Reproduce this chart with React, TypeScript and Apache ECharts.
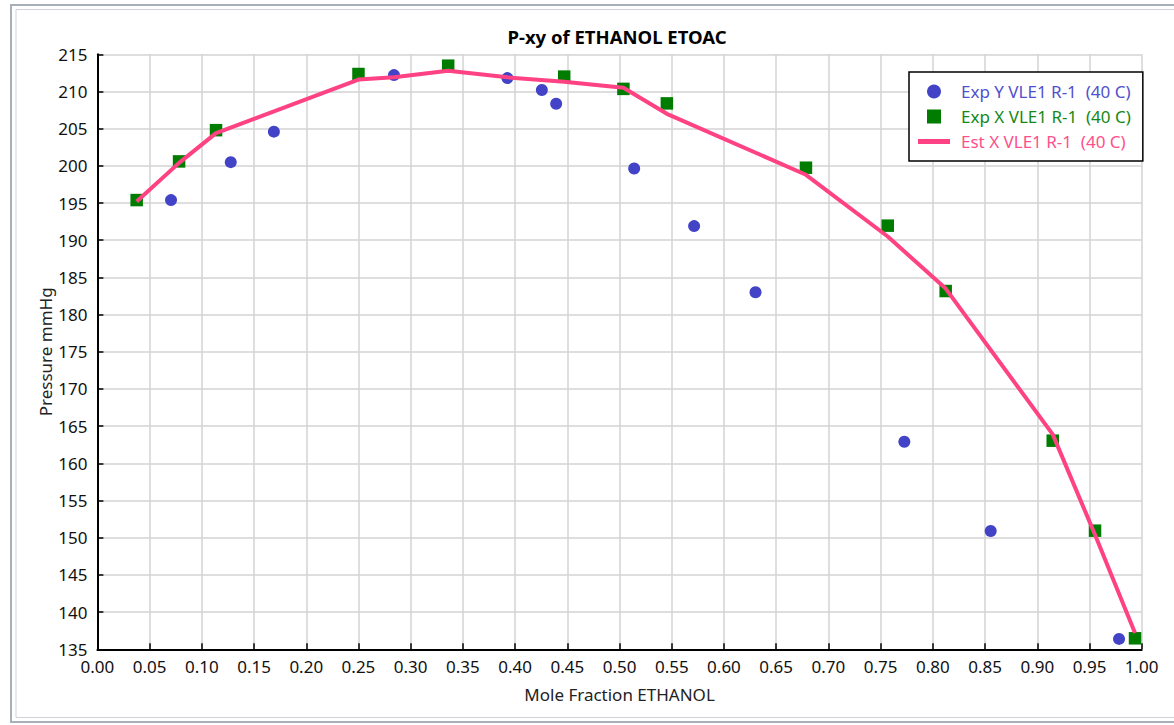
import React, { useEffect, useRef } from "react";
import * as echarts from "echarts";

const FONT = "'Noto Sans', 'DejaVu Sans', sans-serif";

const TITLE = "P-xy of ETHANOL ETOAC";
const X_NAME = "Mole Fraction ETHANOL";
const Y_NAME = "Pressure mmHg";
const SERIES_NAMES = [
  "Exp Y VLE1 R-1  (40 C)",
  "Exp X VLE1 R-1  (40 C)",
  "Est X VLE1 R-1  (40 C)",
];
const COLORS = ["#4343c8", "#007d00", "#ff4283"];
const TEXT_COLORS = ["#5050cf", "#168816", "#ff4f8c"];

// Exp Y (vapour) points
const expYx = [0.0705, 0.1277, 0.169, 0.284, 0.3926, 0.4256, 0.4393, 0.514, 0.5714, 0.6302, 0.7727, 0.8554, 0.9783];
const expYp = [195.4, 200.5, 204.6, 212.2, 211.8, 210.2, 208.35, 199.65, 191.9, 183.0, 162.9, 150.9, 136.4];

// Exp X (liquid) points
const expXx = [0.0376, 0.0782, 0.1136, 0.25, 0.3359, 0.447, 0.5037, 0.5453, 0.6785, 0.7568, 0.8123, 0.9148, 0.9553, 0.9936];
const expXp = [195.4, 200.6, 204.8, 212.35, 213.47, 212.0, 210.35, 208.4, 199.75, 191.96, 183.17, 163.05, 150.95, 136.48];

// Est X line
const estX = [0.0376, 0.0782, 0.1136, 0.25, 0.284, 0.3359, 0.3926, 0.447, 0.5037, 0.5453, 0.6785, 0.7568, 0.8123, 0.9148, 0.9553, 0.9936];
const estP = [195.2, 200.4, 204.4, 211.6, 211.9, 212.8, 211.9, 211.3, 210.5, 207.0, 198.8, 190.5, 183.5, 163.9, 150.4, 137.2];

const X_MIN = 0;
const X_MAX = 1;
const X_STEP = 0.05;
const Y_MIN = 135;
const Y_MAX = 215;
const Y_STEP = 5;

const zip = (a: number[], b: number[]) => a.map((v, i) => [v, b[i]]);

export default function App() {
  const ref = useRef<HTMLDivElement>(null);

  useEffect(() => {
    if (!ref.current) return;
    const chart = echarts.init(ref.current, null, { renderer: "svg" });
    const option: any = {
      animation: false,
      backgroundColor: "#ffffff",
      textStyle: { fontFamily: FONT },
      title: {
        text: TITLE,
        left: 617,
        top: 27,
        padding: 0,
        textAlign: "center",
        textStyle: { fontFamily: FONT, fontSize: 18.5, fontWeight: "bold", color: "#000" },
      },
      graphic: [
        {
          type: "rect",
          shape: { x: 11, y: 5, width: 1200, height: 717 },
          style: { fill: "none", stroke: "#a9afb6", lineWidth: 2 },
          silent: true,
          z: -1,
        },
        {
          type: "rect",
          shape: { x: 16, y: 9.5, width: 1200, height: 708 },
          style: { fill: "none", stroke: "#cfd3d8", lineWidth: 1 },
          silent: true,
          z: -1,
        },
      ],
      legend: {
        orient: "vertical",
        left: 909,
        top: 72,
        padding: [11, 12, 11, 9],
        itemGap: 8,
        itemWidth: 32,
        itemHeight: 14,
        symbolKeepAspect: true,
        borderColor: "#000",
        borderWidth: 1.5,
        borderRadius: 0,
        backgroundColor: "#fff",
        textStyle: { fontFamily: FONT, fontSize: 17, padding: [0, 0, 0, 6] },
        data: [
          { name: SERIES_NAMES[0], icon: "circle", textStyle: { color: TEXT_COLORS[0] } },
          { name: SERIES_NAMES[1], icon: "path://M0,0h10v10h-10z", textStyle: { color: TEXT_COLORS[1] } },
          { name: SERIES_NAMES[2], icon: "path://M0,0h32v5h-32z", textStyle: { color: TEXT_COLORS[2] } },
        ],
      },
      grid: { left: 97.4, right: 32.3, top: 54.3, bottom: 75.7, containLabel: false },
      xAxis: {
        type: "value",
        min: X_MIN,
        max: X_MAX,
        interval: X_STEP,
        name: X_NAME,
        nameLocation: "middle",
        nameGap: 37,
        nameTextStyle: { fontFamily: FONT, fontSize: 17, color: "#222" },
        axisLine: { show: true, onZero: false, lineStyle: { color: "#000", width: 2 } },
        axisTick: { show: true, inside: true, length: 6, lineStyle: { color: "#000", width: 1.5 } },
        axisLabel: {
          fontFamily: FONT,
          fontSize: 17,
          color: "#111",
          margin: 9,
          formatter: (v: number) => v.toFixed(2),
        },
        splitLine: { show: true, lineStyle: { color: "#d3d3d3", width: 1.5 } },
      },
      yAxis: {
        type: "value",
        min: Y_MIN,
        max: Y_MAX,
        interval: Y_STEP,
        name: Y_NAME,
        nameLocation: "middle",
        nameGap: 43,
        nameMoveOverlap: false,
        nameRotate: 90,
        nameTextStyle: { fontFamily: FONT, fontSize: 17, color: "#222" },
        axisLine: { show: true, onZero: false, lineStyle: { color: "#000", width: 2 } },
        axisTick: { show: true, inside: true, length: 6, lineStyle: { color: "#000", width: 1.5 } },
        axisLabel: { fontFamily: FONT, fontSize: 17, color: "#111", margin: 10 },
        splitLine: { show: true, lineStyle: { color: "#d3d3d3", width: 1.5 } },
      },
      series: [
        {
          name: SERIES_NAMES[0],
          type: "scatter",
          symbol: "circle",
          symbolSize: 12,
          itemStyle: { color: COLORS[0], opacity: 1 },
          data: zip(expYx, expYp),
          z: 3,
        },
        {
          name: SERIES_NAMES[1],
          type: "scatter",
          symbol: "rect",
          symbolSize: 12.5,
          itemStyle: { color: COLORS[1], opacity: 1 },
          data: zip(expXx, expXp),
          z: 3,
        },
        {
          name: SERIES_NAMES[2],
          type: "line",
          symbol: "none",
          showSymbol: false,
          lineStyle: { color: COLORS[2], width: 4 },
          itemStyle: { color: COLORS[2] },
          data: zip(estX, estP),
          z: 4,
        },
      ],
    };
    chart.setOption(option);
    return () => chart.dispose();
  }, []);

  return (
    <div
      ref={ref}
      style={{ position: "fixed", left: 0, top: 0, width: 1174, height: 725, background: "#fff" }}
    />
  );
}
